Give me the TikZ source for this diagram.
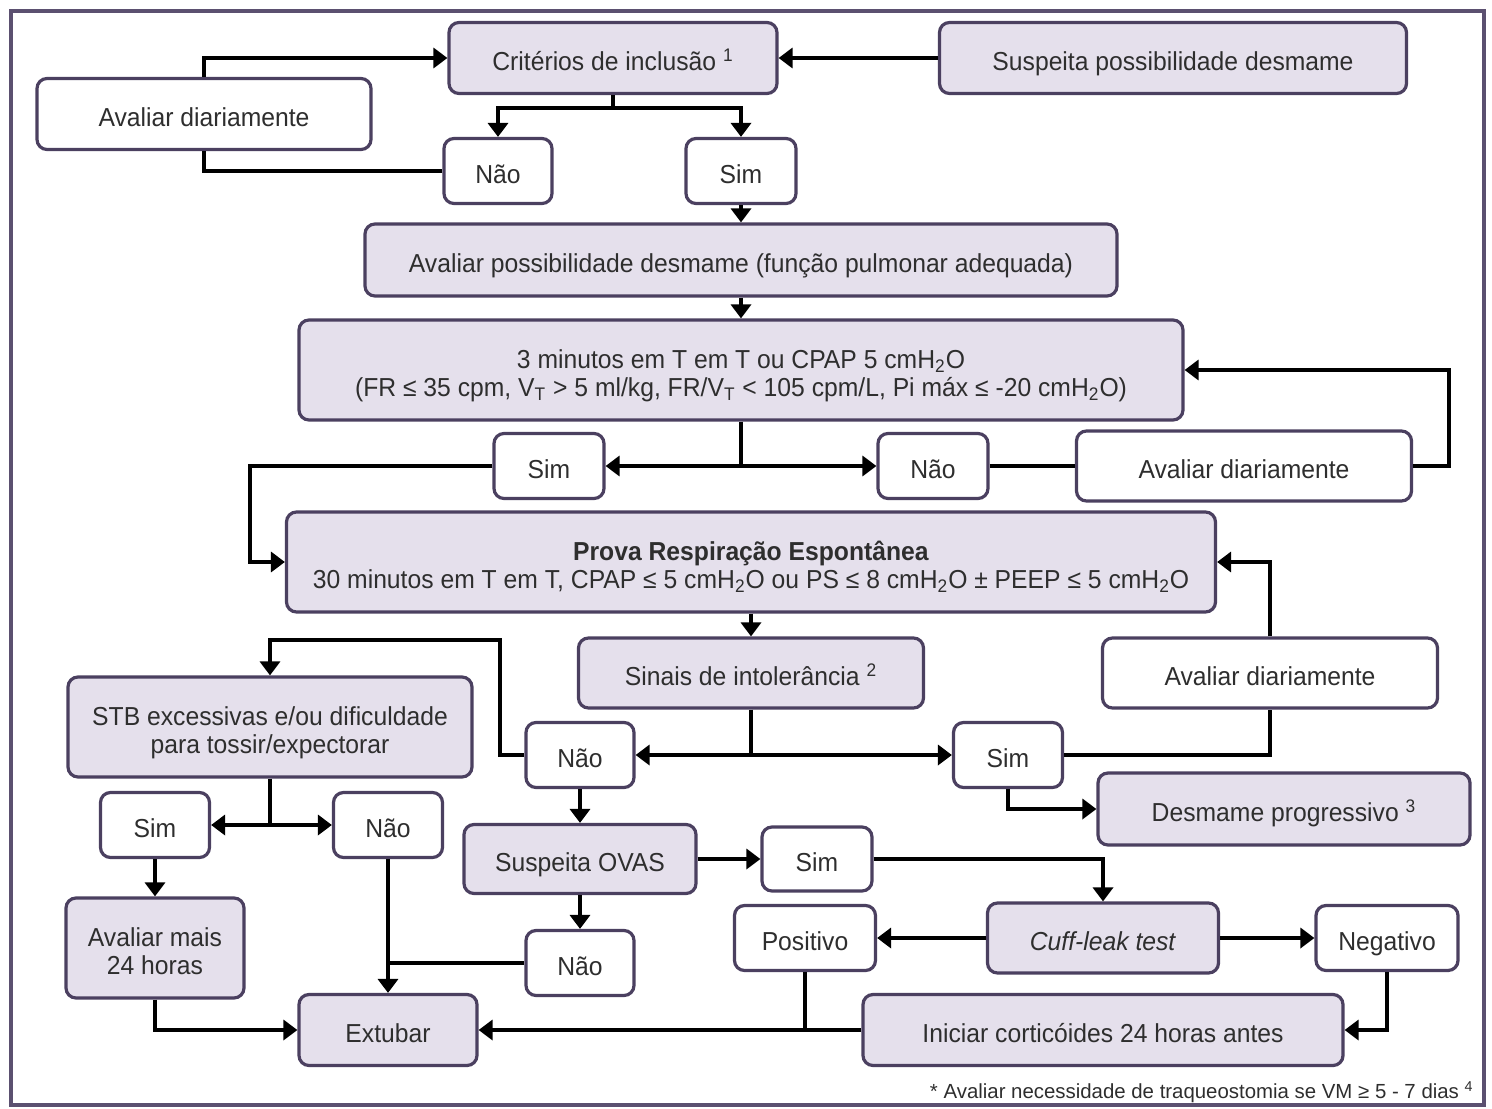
\documentclass[tikz,border=0pt]{standalone}
\usepackage{fontspec}
\setmainfont{Liberation Sans}[FakeStretch=0.95]
\newfontfamily\footfont{Liberation Sans}
\usetikzlibrary{arrows.meta}
\definecolor{boxfill}{HTML}{E5E0EC}
\definecolor{boxline}{HTML}{4B4060}
\definecolor{framec}{HTML}{5B5070}
\definecolor{txt}{HTML}{2E2E2E}
\tikzset{
  base/.style={draw=boxline, line width=1.6pt, rounded corners=5pt, align=center,
    inner sep=0pt, text=txt, font=\fontsize{13}{14}\selectfont},
  fbox/.style={base, fill=boxfill},
  wbox/.style={base, fill=white},
  one/.style={text height=14.6pt, text depth=2.5pt},
  ml/.style={text height=26.1pt, text depth=0pt},
  wh/.style 2 args={minimum width=#1*0.5pt, minimum height=#2*0.5pt},
  ln/.style={line width=2.4pt, draw=black},
  arr/.style={ln, -{Triangle[length=7pt,width=10pt]}},
}
\newcommand{\hto}{cmH\textsubscript{2}O}
\begin{document}
\begin{tikzpicture}[x=0.5pt,y=-0.5pt]
\useasboundingbox (0,0) rectangle (1492,1108);
\draw[framec, line width=1.6pt] (11,11) rectangle (1484,1105);
% nodes
\node[fbox, one, wh={328}{71}] (crit) at (613,58) {Critérios de inclusão \textsuperscript{1}};
\node[fbox, one, wh={467}{71}] (susp) at (1173,58) {Suspeita possibilidade desmame};
\node[wbox, one, wh={334}{71}] (ad1) at (204,114) {Avaliar diariamente};
\node[wbox, one, wh={108}{65}] (nao1) at (498,171) {Não};
\node[wbox, one, wh={110}{65}] (sim1) at (741,171) {Sim};
\node[fbox, one, wh={752}{72}] (aposs) at (741,260) {Avaliar possibilidade desmame (função pulmonar adequada)};
\node[fbox, ml, wh={884}{100}] (tres) at (741,370) {3 minutos em T em T ou CPAP 5 \hto\\(FR ≤ 35 cpm, V\textsubscript{T} > 5 ml/kg, FR/V\textsubscript{T} < 105 cpm/L, Pi máx ≤ -20 \hto)};
\node[wbox, one, wh={110}{65}] (sim2) at (549,466) {Sim};
\node[wbox, one, wh={110}{65}] (nao2) at (933,466) {Não};
\node[wbox, one, wh={335}{70}] (ad2) at (1244,466) {Avaliar diariamente};
\node[fbox, ml, wh={929}{100}] (prova) at (751,562) {\textbf{Prova Respiração Espontânea}\\30 minutos em T em T, CPAP ≤ 5 \hto{} ou PS ≤ 8 \hto{} ± PEEP ≤ 5 \hto};
\node[fbox, one, wh={345}{70}] (sinais) at (751,673) {Sinais de intolerância \textsuperscript{2}};
\node[wbox, one, wh={335}{70}] (ad3) at (1270,673) {Avaliar diariamente};
\node[fbox, ml, wh={404}{100}] (stb) at (270,727) {STB excessivas e/ou dificuldade\\para tossir/expectorar};
\node[wbox, one, wh={108}{65}] (nao3) at (580,755) {Não};
\node[wbox, one, wh={109}{65}] (sim3) at (1008,755) {Sim};
\node[fbox, one, wh={372}{72}] (desm) at (1284,809) {Desmame progressivo \textsuperscript{3}};
\node[wbox, one, wh={109}{65}] (sim4) at (155,825) {Sim};
\node[wbox, one, wh={109}{65}] (nao4) at (388,825) {Não};
\node[fbox, one, wh={232}{69}] (ovas) at (580,859) {Suspeita OVAS};
\node[wbox, one, wh={110}{64}] (sim5) at (817,859) {Sim};
\node[fbox, ml, wh={178}{100}] (mais) at (155,948) {Avaliar mais\\24 horas};
\node[wbox, one, wh={108}{65}] (nao5) at (580,963) {Não};
\node[wbox, one, wh={141}{65}] (pos) at (805,938) {Positivo};
\node[fbox, one, wh={231}{70}] (cuff) at (1103,938) {\textit{Cuff-leak test}};
\node[wbox, one, wh={142}{65}] (neg) at (1387,938) {Negativo};
\node[fbox, one, wh={178}{71}] (ext) at (388,1030) {Extubar};
\node[fbox, one, wh={480}{71}] (inic) at (1103,1030) {Iniciar corticóides 24 horas antes};
\node[anchor=east, inner sep=0pt, text=txt, font=\footfont\fontsize{10.2}{12}\selectfont] (foot) at (1474,1092) {* Avaliar necessidade de traqueostomia se VM ≥ 5 - 7 dias \textsuperscript{4}};
% junction coordinates
\coordinate (j1) at (613,108);
\coordinate (j2) at (741,466);
\coordinate (r1) at (1449,370);
\coordinate (l1) at (250,466);
\coordinate (j3) at (751,755);
\coordinate (l2) at (500,640);
\coordinate (j4) at (270,825);
\coordinate (j5) at (388,963);
\coordinate (j6) at (805,1030);
% connectors
\draw[arr] (ad1.north) |- (crit.west);
\draw[ln] (nao1.west) -| (ad1.south);
\draw[arr] (susp.west) -- (crit.east);
\draw[ln] (crit.south) -- (j1);
\draw[arr] (j1) -| (nao1.north);
\draw[arr] (j1) -| (sim1.north);
\draw[arr] (sim1.south) -- (aposs.north);
\draw[arr] (aposs.south) -- (tres.north);
\draw[ln] (tres.south) -- (j2);
\draw[arr] (j2) -- (sim2.east);
\draw[arr] (j2) -- (nao2.west);
\draw[ln] (nao2.east) -- (ad2.west);
\draw[arr] (ad2.east) -| (r1) -- (tres.east);
\draw[arr] (sim2.west) -- (l1) |- (prova.west);
\draw[arr] (prova.south) -- (sinais.north);
\draw[ln] (sinais.south) -- (j3);
\draw[arr] (j3) -- (nao3.east);
\draw[arr] (j3) -- (sim3.west);
\draw[ln] (sim3.east) -| (ad3.south);
\draw[arr] (ad3.north) |- (prova.east);
\draw[arr] (sim3.south) |- (desm.west);
\draw[arr] (nao3.west) -| (l2) -| (stb.north);
\draw[arr] (nao3.south) -- (ovas.north);
\draw[ln] (stb.south) -- (j4);
\draw[arr] (j4) -- (sim4.east);
\draw[arr] (j4) -- (nao4.west);
\draw[arr] (sim4.south) -- (mais.north);
\draw[arr] (nao4.south) -- (ext.north);
\draw[ln] (nao5.west) -- (j5);
\draw[arr] (mais.south) |- (ext.west);
\draw[arr] (ovas.east) -- (sim5.west);
\draw[arr] (ovas.south) -- (nao5.north);
\draw[arr] (sim5.east) -| (cuff.north);
\draw[arr] (cuff.west) -- (pos.east);
\draw[arr] (cuff.east) -- (neg.west);
\draw[arr] (inic.west) -- (ext.east);
\draw[ln] (pos.south) -- (j6);
\draw[arr] (neg.south) |- (inic.east);
\end{tikzpicture}
\end{document}
